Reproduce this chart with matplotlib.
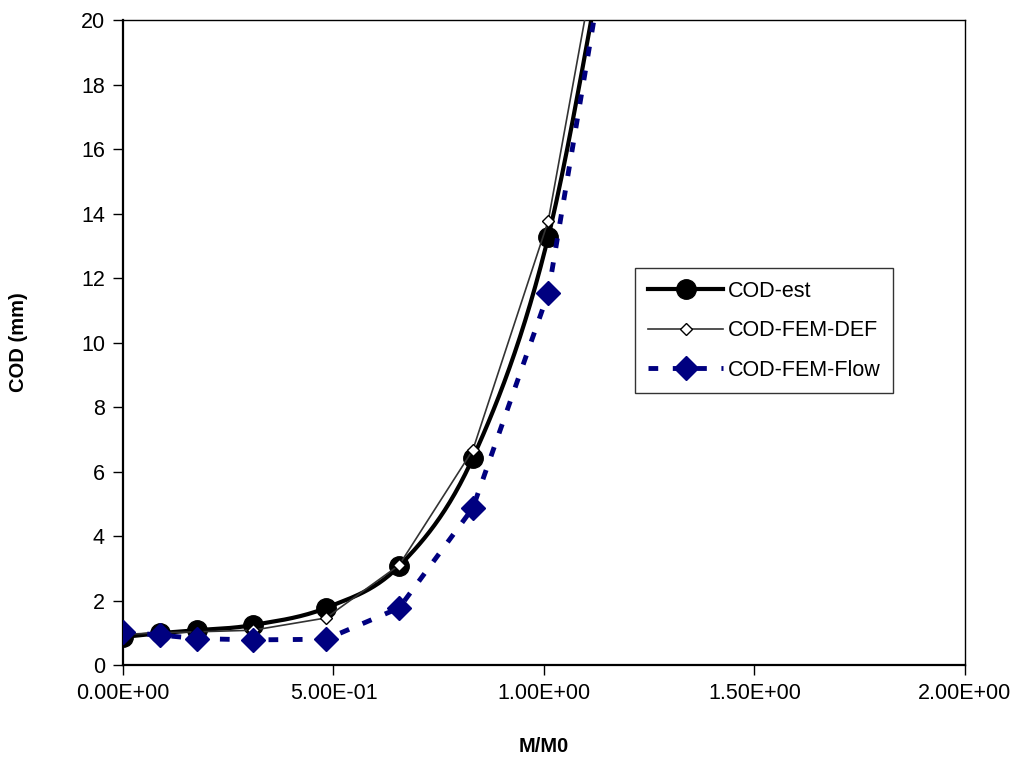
import numpy as np
import matplotlib
matplotlib.use("Agg")
import matplotlib.pyplot as plt

plt.rcParams['font.family'] = ['Liberation Sans', 'DejaVu Sans']

# M/M0 values (last point lies above the visible range)
m_ratio = [0.0, 0.088, 0.176, 0.309, 0.482, 0.656, 0.831, 1.01, 1.18]

cod_est = [0.87, 0.99, 1.08, 1.24, 1.77, 3.07, 6.42, 13.27, 25.0]
cod_fem_def = [0.95, 1.0, 1.03, 1.08, 1.46, 3.1, 6.67, 13.77, 26.0]
cod_fem_flow = [1.02, 0.93, 0.82, 0.78, 0.8, 1.77, 4.87, 11.53, 24.8]

x_ticks = [0.0, 0.5, 1.0, 1.5, 2.0]
x_tick_labels = ['0.00E+00', '5.00E-01', '1.00E+00', '1.50E+00', '2.00E+00']
y_ticks = list(range(0, 21, 2))


def smooth_curve(x, y, n=30):
    # Excel-style smoothed line: cubic Bezier through points, Catmull-Rom control points
    x = np.asarray(x, float)
    y = np.asarray(y, float)
    px, py = [], []
    for i in range(len(x) - 1):
        x0, y0 = (x[i - 1], y[i - 1]) if i > 0 else (x[i], y[i])
        x3, y3 = (x[i + 2], y[i + 2]) if i + 2 < len(x) else (x[i + 1], y[i + 1])
        c1x = x[i] + (x[i + 1] - x0) / 6
        c1y = y[i] + (y[i + 1] - y0) / 6
        c2x = x[i + 1] - (x3 - x[i]) / 6
        c2y = y[i + 1] - (y3 - y[i]) / 6
        t = np.linspace(0, 1, n)
        px.extend((1 - t) ** 3 * x[i] + 3 * (1 - t) ** 2 * t * c1x + 3 * (1 - t) * t ** 2 * c2x + t ** 3 * x[i + 1])
        py.extend((1 - t) ** 3 * y[i] + 3 * (1 - t) ** 2 * t * c1y + 3 * (1 - t) * t ** 2 * c2y + t ** 3 * y[i + 1])
    return px, py


fig = plt.figure(figsize=(10.19, 7.59), dpi=100)
ax = fig.add_axes([0.1207, 0.1238, 0.8263, 0.8498])

navy = '#000080'

# COD-est: smoothed thick black line with circles
sx, sy = smooth_curve(m_ratio, cod_est)
ax.plot(sx, sy, color='black', linewidth=3, zorder=3)
ax.plot(m_ratio, cod_est, linestyle='none', marker='o', markersize=14,
        color='black', zorder=4)
est_handle, = ax.plot([], [], color='black', linewidth=3, marker='o', markersize=14)

# COD-FEM-DEF: thin line with hollow diamonds
def_handle, = ax.plot(m_ratio, cod_fem_def, color='#333333', linewidth=1.2,
                      marker='D', markersize=6, markerfacecolor='white',
                      markeredgecolor='black', markeredgewidth=1, zorder=5)

# COD-FEM-Flow: dashed navy line with filled diamonds
flow_handle, = ax.plot(m_ratio, cod_fem_flow, color=navy, linewidth=3.5,
                       linestyle=(0, (2.0, 3.0)), marker='D', markersize=12,
                       markerfacecolor=navy, markeredgecolor=navy, zorder=6)

ax.set_xlim(0, 2.0)
ax.set_ylim(0, 20)
ax.set_xticks(x_ticks)
ax.set_xticklabels(x_tick_labels)
ax.set_yticks(y_ticks)
ax.tick_params(axis='both', direction='out', length=7, width=1, labelsize=15.5,
               pad=6, top=False, right=False)

for side in ['left', 'bottom']:
    ax.spines[side].set_linewidth(1.6)
for side in ['top', 'right']:
    ax.spines[side].set_linewidth(1.0)

ax.set_xlabel('M/M0', fontsize=14.5, fontweight='bold', labelpad=24)
ax.set_ylabel('COD (mm)', fontsize=14.5, fontweight='bold', labelpad=38)

leg = ax.legend([est_handle, def_handle, flow_handle],
                ['COD-est', 'COD-FEM-DEF', 'COD-FEM-Flow'],
                loc='upper left', bbox_to_anchor=(0.608, 0.6155),
                fontsize=15.5, frameon=True, fancybox=False, handlelength=3.5,
                borderpad=0.6, labelspacing=0.85, handletextpad=0.2,
                borderaxespad=0)
leg.get_frame().set_edgecolor('black')
leg.get_frame().set_linewidth(1.0)

fig.savefig('out.png', dpi=100)
